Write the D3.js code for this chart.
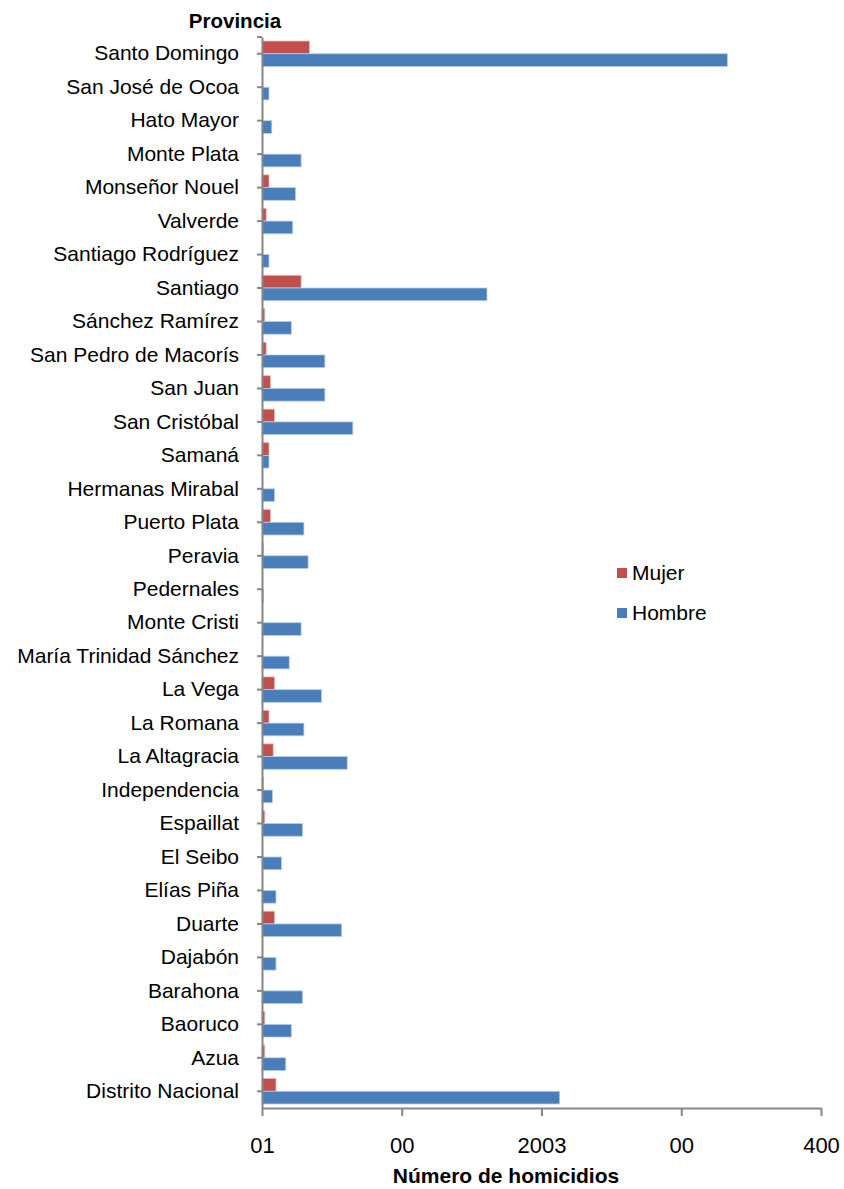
<!DOCTYPE html>
<html>
<head>
<meta charset="utf-8">
<script src="https://cdn.jsdelivr.net/npm/d3@7"></script>
<style>
  body { margin: 0; background: #fff; }
  text { font-family: "Liberation Sans", Arial, sans-serif; fill: #000; }
</style>
</head>
<body>
<div id="chart"></div>
<script>
const provincias = [
  "Santo Domingo", "San José de Ocoa", "Hato Mayor", "Monte Plata", "Monseñor Nouel",
  "Valverde", "Santiago Rodríguez", "Santiago", "Sánchez Ramírez", "San Pedro de Macorís",
  "San Juan", "San Cristóbal", "Samaná", "Hermanas Mirabal", "Puerto Plata",
  "Peravia", "Pedernales", "Monte Cristi", "María Trinidad Sánchez", "La Vega",
  "La Romana", "La Altagracia", "Independencia", "Espaillat", "El Seibo",
  "Elías Piña", "Duarte", "Dajabón", "Barahona", "Baoruco",
  "Azua", "Distrito Nacional"
];
const mujer = [
  34, 0, 0, 0, 5,
  3, 0, 28, 2, 3,
  6, 9, 5, 0, 6,
  1, 0, 0, 0, 9,
  5, 8, 1, 2, 0,
  0, 9, 0, 0, 2,
  2, 10
];
const hombre = [
  333, 5, 7, 28, 24,
  22, 5, 161, 21, 45,
  45, 65, 5, 9, 30,
  33, 1, 28, 19.5, 42.5,
  30, 61, 7.5, 29, 14,
  10, 57, 10, 29, 21,
  17, 213
];
const series = ["Mujer", "Hombre"];
const colors = ["#c0504d", "#4a7ebb"];
const xTickValues = [0, 100, 200, 300, 400];
const xTickLabels = ["01", "00", "2003", "00", "400"];

const W = 844, H = 1189;
const svg = d3.select("#chart").append("svg")
  .attr("width", W).attr("height", H);

const x = d3.scaleLinear().domain([0, 400]).range([262, 821]);
const y = d3.scaleBand().domain(provincias).range([37, 1108])
  .paddingInner(0.24).paddingOuter(0.12);
const ySub = d3.scaleBand().domain(series).range([0, y.bandwidth()]);

const rows = provincias.map((p, i) => ({ p, vals: [mujer[i], hombre[i]] }));

// bars
const g = svg.append("g");
g.selectAll("g.row")
  .data(rows)
  .join("g")
  .attr("class", "row")
  .attr("transform", d => `translate(0,${y(d.p)})`)
  .selectAll("rect")
  .data(d => d.vals.map((v, k) => ({ s: series[k], v, k })))
  .join("rect")
  .attr("x", x(0))
  .attr("y", d => ySub(d.s))
  .attr("width", d => x(d.v) - x(0))
  .attr("height", ySub.bandwidth())
  .attr("fill", d => colors[d.k])
  .attr("stroke", d => d.v > 0 ? (d.k ? "#b9cde5" : "#e6b9b8") : "none")
  .attr("stroke-width", 0.8);

// y axis
const yAxis = svg.append("g")
  .attr("transform", `translate(${x(0)},0)`)
  .call(d3.axisLeft(y).tickSize(5).tickPadding(18).tickSizeOuter(0));
yAxis.select(".domain").attr("stroke", "#868686").attr("stroke-width", 2);
yAxis.selectAll(".tick line").attr("stroke", "#868686").attr("stroke-width", 2);
yAxis.selectAll(".tick text").style("font-size", "21px").attr("fill", "#000");
yAxis.append("line")
  .attr("x1", -5).attr("x2", 0).attr("y1", 37).attr("y2", 37)
  .attr("stroke", "#868686").attr("stroke-width", 2);

// x axis
const xAxis = svg.append("g")
  .attr("transform", `translate(0,1108)`)
  .call(d3.axisBottom(x).tickValues(xTickValues)
    .tickFormat((d, i) => xTickLabels[i]).tickSize(8).tickSizeOuter(0).tickPadding(21));
xAxis.select(".domain").attr("stroke", "#868686").attr("stroke-width", 2);
xAxis.selectAll(".tick line").attr("stroke", "#868686").attr("stroke-width", 2);
xAxis.selectAll(".tick text").style("font-size", "22px").attr("fill", "#000");

// titles
svg.append("text")
  .attr("x", 235).attr("y", 28)
  .attr("text-anchor", "middle")
  .style("font-size", "20.5px").style("font-weight", "bold")
  .text("Provincia");
svg.append("text")
  .attr("x", 506).attr("y", 1183)
  .attr("text-anchor", "middle")
  .style("font-size", "21px").style("font-weight", "bold")
  .text("Número de homicidios");

// legend
const legend = svg.append("g").attr("transform", "translate(617,565)");
series.forEach((s, i) => {
  legend.append("rect")
    .attr("x", 0).attr("y", i * 40 + 3)
    .attr("width", 10).attr("height", 10)
    .attr("fill", colors[i]);
  legend.append("text")
    .attr("x", 15).attr("y", i * 40 + 15)
    .style("font-size", "21px")
    .text(s);
});
</script>
</body>
</html>
